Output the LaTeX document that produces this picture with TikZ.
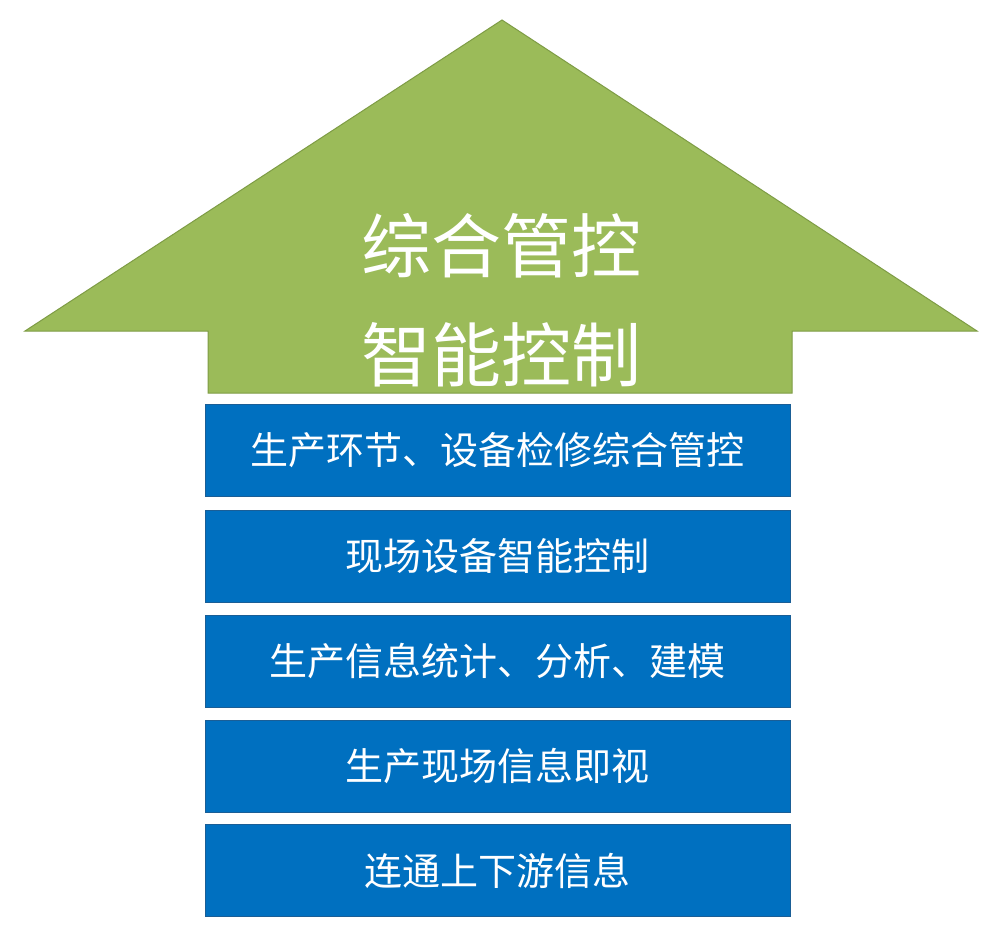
\documentclass[tikz,border=0pt]{standalone}
\usepackage{fontspec}
\setmainfont{Noto Sans CJK SC}
\definecolor{arrowgreen}{HTML}{9BBB59}
\definecolor{arrowedge}{HTML}{7E9C45}
\definecolor{boxblue}{HTML}{0070C0}
\definecolor{boxedge}{HTML}{1A5E96}
\begin{document}
\begin{tikzpicture}[x=1pt,y=-1pt,
  layerbox/.style={draw=boxedge, line width=0.8pt, fill=boxblue, minimum width=585pt, minimum height=92pt, inner sep=0pt, text=white, font=\fontsize{38pt}{42pt}\selectfont},
  bigtext/.style={text=white, inner sep=0pt, font=\fontsize{70pt}{76pt}\selectfont}]
\useasboundingbox (0,0) rectangle (1000,942);
\fill[white] (0,0) rectangle (1000,942);
\coordinate (tip) at (502,20);
\coordinate (rtip) at (977,331);
\coordinate (ltip) at (25,331);
\draw[fill=arrowgreen, draw=arrowedge, line width=1pt, line join=miter]
  (tip) -- (rtip) -- (792,331) -- (792,393) -- (208,393) -- (208,331) -- (ltip) -- cycle;
\node[bigtext] (t1) at (501,246) {综合管控};
\node[bigtext] (t2) at (501,355) {智能控制};
\node[layerbox] (b1) at (497.5,450.5) {生产环节、设备检修综合管控};
\node[layerbox] (b2) at (497.5,556) {现场设备智能控制};
\node[layerbox] (b3) at (497.5,661) {生产信息统计、分析、建模};
\node[layerbox] (b4) at (497.5,766) {生产现场信息即视};
\node[layerbox] (b5) at (497.5,870.5) {连通上下游信息};
\end{tikzpicture}
\end{document}
